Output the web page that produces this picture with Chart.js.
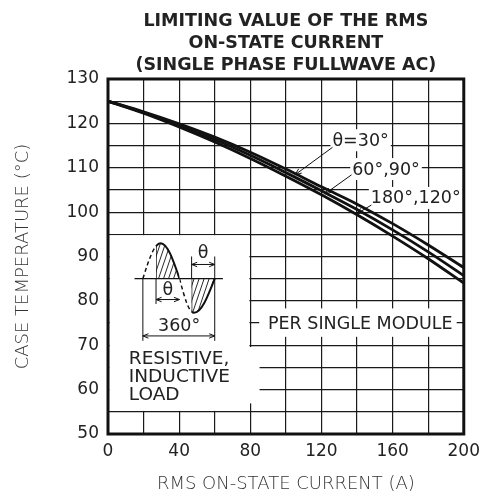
<!DOCTYPE html>
<html><head><meta charset="utf-8">
<script src="https://cdn.jsdelivr.net/npm/chart.js@4.4.1/dist/chart.umd.min.js"></script>
<style>html,body{margin:0;padding:0;background:#fff;}#wrap{width:487px;height:499px;}</style>
</head><body><div id="wrap"><canvas id="c" width="487" height="499"></canvas></div>
<script>
// ---- data ----
const currents    = [0, 20, 40, 60, 80, 100, 120, 140, 160, 180, 200];
const temp30      = [125, 122.6, 119.9, 116.9, 113.5, 109.7, 105.7, 101.8, 97.4, 92.6, 87.5];
const temp60_90   = [125, 122.45, 119.55, 116.35, 112.8, 108.9, 104.8, 100.6, 96.0, 91.05, 85.7];
const temp180_120 = [125, 122.3, 119.2, 115.8, 112.1, 108.1, 103.9, 99.4, 94.6, 89.5, 84.0];
const seriesNames = ['θ=30°', '60°,90°', '180°,120°'];
const xTickLabels = [0, 40, 80, 120, 160, 200];
const yTickLabels = [50, 60, 70, 80, 90, 100, 110, 120, 130];
const titleLines  = ['LIMITING VALUE OF THE RMS', 'ON-STATE CURRENT', '(SINGLE PHASE FULLWAVE AC)'];
const xTitle = 'RMS ON-STATE CURRENT (A)';
const yTitle = 'CASE TEMPERATURE (°C)';
const noteModule = 'PER SINGLE MODULE';
const noteLoad = ['RESISTIVE,', 'INDUCTIVE', 'LOAD'];

// ---- annotation placement (data units) ----
const seriesLabelPos = [[142, 116.2], [156.3, 109.7], [173, 103.2]];
const leaderArrows = [[126.2, 114.6, 105.1, 108.4], [136.9, 108.4, 121.9, 104.1], [148.1, 101.6, 139.7, 99.6]];

const FONT = '"DejaVu Sans"';
const TXT = '#222';

function toPts(ys) { return currents.map((c, i) => ({x: c, y: ys[i]})); }

function arrowHead(ctx, tx, ty, fx, fy, size) {
  const a = Math.atan2(ty - fy, tx - fx), s = size || 6, sp = 0.38;
  ctx.beginPath();
  ctx.moveTo(tx - s * Math.cos(a - sp), ty - s * Math.sin(a - sp));
  ctx.lineTo(tx, ty);
  ctx.lineTo(tx - s * Math.cos(a + sp), ty - s * Math.sin(a + sp));
  ctx.stroke();
}
function dimArrow(ctx, x1, y1, x2, y2) {
  ctx.beginPath(); ctx.moveTo(x1, y1); ctx.lineTo(x2, y2); ctx.stroke();
  arrowHead(ctx, x1, y1, x2, y2, 6); arrowHead(ctx, x2, y2, x1, y1, 6);
}
function line(ctx, x1, y1, x2, y2) { ctx.beginPath(); ctx.moveTo(x1, y1); ctx.lineTo(x2, y2); ctx.stroke(); }
// quarter sine: zero (x0,y0) -> peak (x1,y1)
function qUp(ctx, x0, y0, x1, y1) {
  ctx.bezierCurveTo(x0 + 0.3343 * (x1 - x0), y0 + 0.5251 * (y1 - y0), x0 + 0.6395 * (x1 - x0), y1, x1, y1);
}
// peak (x1,y1) -> zero (x2,y0)
function qDown(ctx, x1, y1, x2, y0) {
  ctx.bezierCurveTo(x1 + 0.3605 * (x2 - x1), y1, x1 + 0.6657 * (x2 - x1), y0 + 0.5251 * (y1 - y0), x2, y0);
}

const annot = {
  id: 'annot',
  beforeDatasetsDraw(chart) {
    const {ctx, scales: {x, y}} = chart;
    const X = v => x.getPixelForValue(v), Y = v => y.getPixelForValue(v);
    ctx.save();
    // white areas that hide the grid
    ctx.fillStyle = '#fff';
    ctx.fillRect(X(0) + 1.5, Y(95) + 0.9, X(80) - 0.9 - X(0) - 1.5, Y(55) - Y(95) - 1.8);
    ctx.fillRect(X(0) + 1.5, Y(69.6), X(85.2) - X(0) - 1.5, Y(56.9) - Y(69.6));
    ctx.fillRect(X(85), Y(78.3), X(196) - X(85), Y(71.9) - Y(78.3));
    // series labels
    ctx.font = '17.5px ' + FONT;
    ctx.textAlign = 'center'; ctx.textBaseline = 'middle';
    seriesNames.forEach((t, i) => {
      const [vx, vy] = seriesLabelPos[i];
      const w = ctx.measureText(t).width;
      ctx.fillStyle = '#fff';
      ctx.fillRect(X(vx) - w / 2 - 2, Y(vy) - 11, w + 4, 22);
      ctx.fillStyle = TXT;
      ctx.fillText(t, X(vx), Y(vy) + 1);
    });
    ctx.fillText(noteModule, X(141.8), Y(75) + 1);
    // load text
    ctx.font = '18.5px ' + FONT;
    ctx.textAlign = 'left';
    noteLoad.forEach((t, i) => ctx.fillText(t, X(11.7), Y(67 - 4 * i) + 1));

    // ---- waveform sketch ----
    const b = Y(85);
    const A = [X(19.6), b], P = [X(29.6), Y(93)], B = [X(40.2), b], T = [X(48.3), Y(77.3)], C = [X(60), b];
    const posPath = () => { ctx.beginPath(); ctx.moveTo(A[0], A[1]); qUp(ctx, A[0], b, P[0], P[1]); qDown(ctx, P[0], P[1], B[0], b); };
    const negPath = () => { ctx.beginPath(); ctx.moveTo(B[0], B[1]); qUp(ctx, B[0], b, T[0], T[1]); qDown(ctx, T[0], T[1], C[0], b); };
    ctx.strokeStyle = '#111';
    // hatching
    const hatch = (pathFn, xFrom, xTo) => {
      ctx.save();
      pathFn(); ctx.closePath(); ctx.clip();
      ctx.beginPath(); ctx.rect(X(xFrom), Y(100), X(xTo) - X(xFrom) + 2, Y(70) - Y(100)); ctx.clip();
      ctx.lineWidth = 0.9;
      for (let k = X(xFrom) - 60; k < X(xTo) + 60; k += 5) { line(ctx, k, Y(70), k + 45, Y(100)); }
      ctx.lineWidth = 1.4;
      line(ctx, X(xFrom), Y(70), X(xFrom), Y(100));
      ctx.restore();
    };
    hatch(posPath, 27, 40.2);
    hatch(negPath, 47, 60);
    // curves, solid and dashed parts
    const part = (pathFn, xFrom, xTo, dashed) => {
      ctx.save();
      ctx.beginPath(); ctx.rect(X(xFrom), Y(100), X(xTo) - X(xFrom), Y(70) - Y(100)); ctx.clip();
      ctx.lineWidth = dashed ? 1.5 : 2;
      ctx.setLineDash(dashed ? [4, 3] : []);
      pathFn(); ctx.stroke();
      ctx.restore();
    };
    part(posPath, 15, 27, true); part(posPath, 27, 40.2, false);
    part(negPath, 40.2, 47, true); part(negPath, 47, 65, false);
    // baseline
    ctx.lineWidth = 1.2;
    line(ctx, X(14.9), b, X(64.6), b);
    // dimension lines
    ctx.lineWidth = 1;
    line(ctx, X(47), b, X(47), Y(90)); line(ctx, X(60), b, X(60), Y(90));
    dimArrow(ctx, X(47), Y(88.2), X(60), Y(88.2));
    line(ctx, X(27), b, X(27), Y(79.3));
    dimArrow(ctx, X(27), Y(80.3), X(40.2), Y(80.3));
    line(ctx, X(19.6), b, X(19.6), Y(71)); line(ctx, X(60), b, X(60), Y(71));
    dimArrow(ctx, X(19.6), Y(72.1), X(60), Y(72.1));
    ctx.font = '17.5px ' + FONT;
    ctx.textAlign = 'center'; ctx.fillStyle = TXT;
    ctx.fillText('θ', X(53.4), Y(90.8) + 1);
    ctx.fillText('θ', X(33.7), Y(82.5) + 1);
    ctx.fillText('360°', X(40), Y(74.4) + 1);
    ctx.restore();
  },
  afterDatasetsDraw(chart) {
    const {ctx, scales: {x, y}} = chart;
    const X = v => x.getPixelForValue(v), Y = v => y.getPixelForValue(v);
    ctx.save();
    ctx.strokeStyle = '#111'; ctx.lineWidth = 1;
    leaderArrows.forEach(([x1, y1, x2, y2]) => {
      line(ctx, X(x1), Y(y1), X(x2), Y(y2));
      arrowHead(ctx, X(x2), Y(y2), X(x1), Y(y1), 7);
    });
    ctx.restore();
  },
  afterDraw(chart) {
    const {ctx, chartArea: a} = chart;
    ctx.save();
    ctx.strokeStyle = '#111'; ctx.lineWidth = 3;
    ctx.strokeRect(a.left, a.top, a.right - a.left, a.bottom - a.top);
    ctx.restore();
  }
};

const lineDs = (label, ys) => ({
  label, data: toPts(ys), borderColor: '#111', borderWidth: 2.8,
  pointRadius: 0, fill: false, cubicInterpolationMode: 'monotone'
});

new Chart(document.getElementById('c'), {
  type: 'line',
  data: { datasets: [lineDs(seriesNames[0], temp30), lineDs(seriesNames[1], temp60_90), lineDs(seriesNames[2], temp180_120)] },
  options: {
    responsive: false, animation: false, devicePixelRatio: 1,
    layout: { padding: { left: 0, right: 23, top: 0, bottom: 0 } },
    plugins: {
      legend: { display: false }, tooltip: { enabled: false },
      title: {
        display: true, text: titleLines, fullSize: false, color: TXT,
        font: { family: FONT, size: 17.5, weight: 'bold', lineHeight: 1.257 },
        padding: { top: 10, bottom: 3 }
      }
    },
    scales: {
      x: {
        type: 'linear', min: 0, max: 200,
        grid: { color: '#1a1a1a', lineWidth: 1.2, drawTicks: false },
        border: { display: false },
        ticks: { stepSize: 20, autoSkip: false, maxRotation: 0, padding: 7, color: TXT,
          font: { family: FONT, size: 17 },
          callback: v => xTickLabels.includes(v) ? String(v) : '' },
        title: { display: true, text: xTitle, color: '#333', font: { family: FONT, size: 18, weight: 200 }, padding: { top: 0, bottom: 4 } },
        afterFit: s => { s.height = 65; }
      },
      y: {
        type: 'linear', min: 50, max: 130,
        grid: { color: '#1a1a1a', lineWidth: 1.2, drawTicks: false },
        border: { display: false },
        ticks: { stepSize: 5, autoSkip: false, padding: 9, color: TXT,
          font: { family: FONT, size: 17 },
          callback: v => yTickLabels.includes(v) ? String(v) : '' },
        title: { display: true, text: yTitle, color: '#333', font: { family: FONT, size: 18, weight: 200 }, padding: { top: 13, bottom: 0 } },
        afterFit: s => { s.width = 108; }
      }
    }
  },
  plugins: [annot]
});
</script></body></html>
